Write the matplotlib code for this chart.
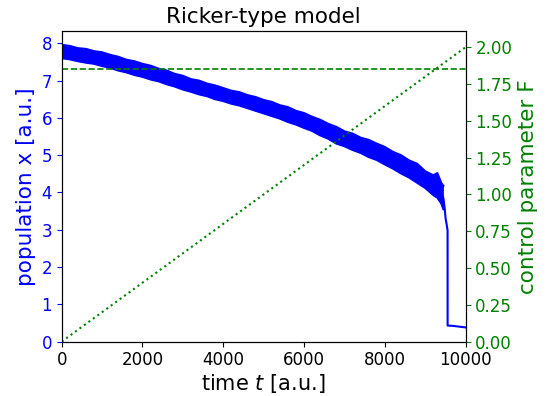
import matplotlib
matplotlib.use("Agg")
import matplotlib.pyplot as plt

# ---- data ----
# noisy population band (upper / lower envelope of the fluctuating trace)
t_band = [0, 200, 400, 600, 800, 1000, 1200, 1400, 1600, 1800,
          2000, 2200, 2400, 2600, 2800, 3000, 3200, 3400, 3600, 3800,
          4000, 4200, 4400, 4600, 4800, 5000, 5200, 5400, 5600, 5800,
          6000, 6200, 6400, 6600, 6800, 7000, 7200, 7400, 7600, 7800,
          8000, 8200, 8400, 8600, 8800, 9000, 9200, 9300, 9400, 9450]
x_upper = [7.96, 7.93, 7.87, 7.85, 7.79, 7.76, 7.69, 7.64, 7.56, 7.52,
           7.45, 7.40, 7.32, 7.27, 7.18, 7.13, 7.04, 7.00, 6.92, 6.87,
           6.80, 6.73, 6.69, 6.61, 6.56, 6.48, 6.43, 6.34, 6.29, 6.19,
           6.13, 6.03, 5.95, 5.84, 5.76, 5.64, 5.58, 5.47, 5.41, 5.31,
           5.22, 5.09, 5.00, 4.86, 4.77, 4.57, 4.46, 4.52, 4.25, 4.18]
x_lower = [7.60, 7.57, 7.52, 7.48, 7.45, 7.39, 7.34, 7.27, 7.22, 7.15,
           7.10, 7.03, 6.98, 6.90, 6.84, 6.76, 6.70, 6.63, 6.58, 6.50,
           6.45, 6.38, 6.33, 6.26, 6.19, 6.12, 6.05, 5.98, 5.89, 5.82,
           5.73, 5.65, 5.53, 5.44, 5.31, 5.24, 5.14, 5.06, 4.95, 4.87,
           4.75, 4.64, 4.51, 4.40, 4.26, 4.12, 3.93, 3.86, 3.70, 3.55]
# tail of the trace: steep fall and collapse
t_tail = [9400, 9450, 9480, 9505, 9530, 9554, 9555, 9700, 10000]
x_tail = [3.97, 3.85, 3.60, 3.30, 3.15, 2.98, 0.43, 0.42, 0.38]

# control parameter ramp and critical value
t_ramp = [0, 10000]
F_ramp = [0.0, 2.0]
F_crit = 1.855

x_ticks = [0, 2000, 4000, 6000, 8000, 10000]
left_ticks = [0, 1, 2, 3, 4, 5, 6, 7, 8]
right_ticks = [0.0, 0.25, 0.5, 0.75, 1.0, 1.25, 1.5, 1.75, 2.0]

# ---- figure ----
fig = plt.figure(figsize=(5.51, 3.96), dpi=100)
ax = fig.add_axes([0.112, 0.1374, 0.733, 0.7843])
ax2 = ax.twinx()

ax.fill_between(t_band, x_lower, x_upper, color="b", linewidth=0)
ax.plot(t_band, x_upper, color="b", lw=1.5)
ax.plot(t_band, x_lower, color="b", lw=1.5)
ax.plot(t_tail, x_tail, color="b", lw=1.5)

ax2.plot(t_ramp, F_ramp, color="g", ls=":", lw=1.5)
ax2.axhline(F_crit, color="g", ls="--", lw=1.2)

ax.set_xlim(0, 10000)
ax.set_ylim(0, 8.33)
ax2.set_ylim(0, 2.11)

ax.set_xticks(x_ticks)
ax.set_yticks(left_ticks)
ax2.set_yticks(right_ticks)
ax2.set_yticklabels([f"{v:.2f}" for v in right_ticks])

ax.tick_params(axis="x", labelsize=12)
ax.tick_params(axis="y", labelsize=12, colors="b")
ax2.tick_params(axis="y", labelsize=12, colors="g")

ax.set_xlabel("time $t$ [a.u.]", fontsize=15, labelpad=2)
ax.set_ylabel("population x [a.u.]", fontsize=15.5, color="b")
ax2.set_ylabel("control parameter F", fontsize=15.5, color="g")
ax.set_title("Ricker-type model", fontsize=15.5)

fig.savefig("out.png", dpi=100)
